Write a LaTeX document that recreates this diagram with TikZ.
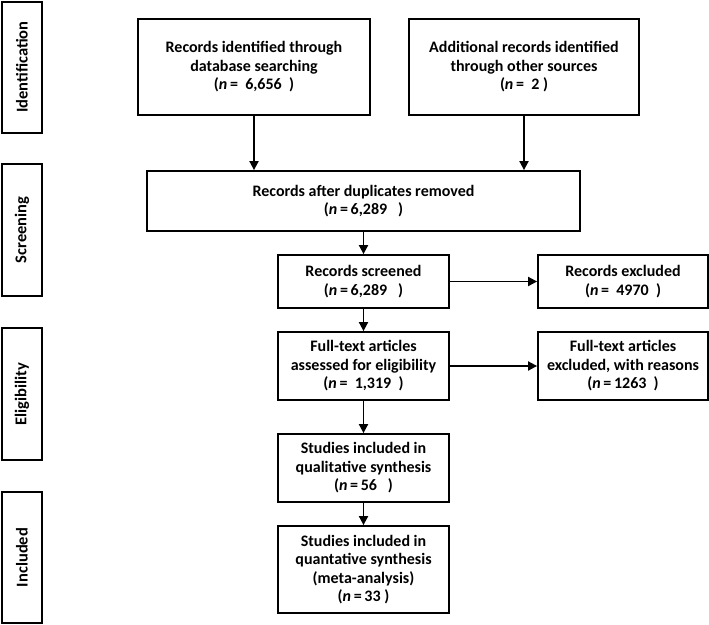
\documentclass[tikz,border=0pt]{standalone}
\usepackage{fontspec}
\setmainfont{Carlito}
\usetikzlibrary{arrows.meta}
\begin{document}
\begin{tikzpicture}[x=1pt,y=-1pt,
  box/.style={draw=black, line width=1.8pt, rectangle, inner sep=0pt, align=center,
    font=\fontsize{16}{18.5}\selectfont\bfseries},
  side/.style={draw=black, line width=2pt, rectangle, inner sep=0pt, minimum width=40pt},
  sidetxt/.style={rotate=90, font=\fontsize{16.5}{18}\selectfont\bfseries},
  arr/.style={line width=1.8pt, -{Triangle[width=9pt,length=9pt]}}]
\useasboundingbox (0,0) rectangle (709,624);
% side labels
\node[side, minimum height=131pt] (sid) at (22,67) {};
\node[sidetxt] at (sid.center) {Identification};
\node[side, minimum height=132pt] (sscr) at (22,230) {};
\node[sidetxt] at (sscr.center) {Screening};
\node[side, minimum height=132pt] (selig) at (22,394) {};
\node[sidetxt] at (selig.center) {Eligibility};
\node[side, minimum height=131pt] (sinc) at (22,557.5) {};
\node[sidetxt] at (sinc.center) {Included};
% main boxes
\node[box, minimum width=232pt, minimum height=96pt] (db) at (254,67)
  {Records identified through\\database searching\\(\textit{n}\,=\ \ 6,656\ \ )};
\node[box, minimum width=230pt, minimum height=96pt] (oth) at (524,67)
  {Additional records identified\\through other sources\\(\textit{n}\,=\ \ 2\ )};
\node[box, minimum width=433pt, minimum height=60pt] (dup) at (363.5,201)
  {Records after duplicates removed\\(\textit{n}\,=\,6,289\ \ \ )};
\node[box, minimum width=171pt, minimum height=53pt] (scr) at (363.5,281.5)
  {Records screened\\(\textit{n}\,=\,6,289\ \ \ )};
\node[box, minimum width=170pt, minimum height=53pt] (exc) at (623,281.5)
  {Records excluded\\(\textit{n}\,=\ \ 4970\ \ )};
\node[box, minimum width=171pt, minimum height=68pt] (ft) at (363.5,366)
  {Full-text articles\\assessed for eligibility\\(\textit{n}\,=\ \ 1,319\ \ )};
\node[box, minimum width=170pt, minimum height=68pt] (fte) at (623,366)
  {Full-text articles\\excluded, with reasons\\(\textit{n}\,=\,1263\ \ )};
\node[box, minimum width=171pt, minimum height=68pt] (ql) at (363.5,468)
  {Studies included in\\qualitative synthesis\\(\textit{n}\,=\,56\ \ \ )};
\node[box, minimum width=171pt, minimum height=87pt] (qn) at (363.5,569.5)
  {Studies included in\\quantative synthesis\\(meta-analysis)\\(\textit{n}\,=\,33\ )};
% arrows
\draw[arr] (db.south) -- (db.south |- dup.north);
\draw[arr] (oth.south) -- (oth.south |- dup.north);
\draw[arr] (dup.south -| scr.north) -- (scr.north);
\draw[arr] (scr.east) -- (exc.west);
\draw[arr] (scr.south) -- (ft.north);
\draw[arr] (ft.east) -- (fte.west);
\draw[arr] (ft.south) -- (ql.north);
\draw[arr] (ql.south) -- (qn.north);
\end{tikzpicture}
\end{document}
